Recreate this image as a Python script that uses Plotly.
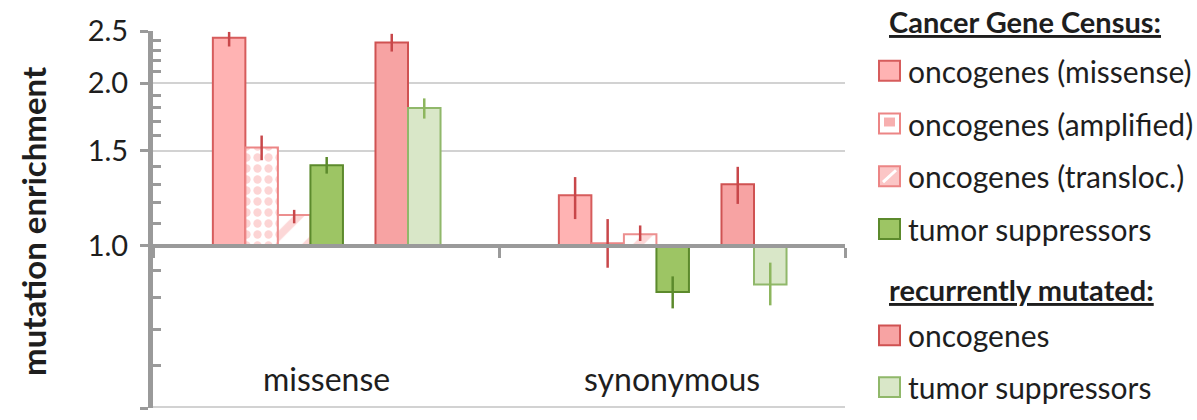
import math
import plotly.graph_objects as go

# ---------------- data ----------------
categories = ["missense", "synonymous"]

cgc_onc_missense = [2.43, 1.24]
cgc_onc_missense_hi = [2.49, 1.34]
cgc_onc_missense_lo = [2.34, 1.12]

cgc_onc_amplified = [1.52, 1.01]
cgc_onc_amplified_hi = [1.60, 1.12]
cgc_onc_amplified_lo = [1.44, 0.91]

cgc_onc_transloc = [1.14, 1.05]
cgc_onc_transloc_hi = [1.165, 1.09]
cgc_onc_transloc_lo = [1.10, 1.02]

cgc_tsg = [1.41, 0.82]
cgc_tsg_hi = [1.46, 0.877]
cgc_tsg_lo = [1.36, 0.765]

rec_onc = [2.38, 1.30]
rec_onc_hi = [2.47, 1.40]
rec_onc_lo = [2.29, 1.195]

rec_tsg = [1.80, 0.847]
rec_tsg_hi = [1.875, 0.93]
rec_tsg_lo = [1.72, 0.775]

y_tick_vals = [0.5, 1.0, 1.5, 2.0, 2.5]
y_tick_text = ["0.5", "1.0", "1.5", "2.0", "2.5"]
y_minor_vals = [0.6, 0.7, 0.8, 0.9, 1.1, 1.2, 1.3, 1.4, 1.6, 1.7, 1.8, 1.9,
                2.1, 2.2, 2.3, 2.4]

legend_title_cgc = "Cancer Gene Census:"
legend_title_rec = "recurrently mutated:"

# ---------------- styling ----------------
FONT = "Lato"
TXT = "#1e1e1e"
AX = "#9a9a9a"
GRID = "#D2D2D2"

W, H = 1197, 420
L, R, T, B = 153, 845, 29, 408


def xp(px):
    return (px - L) / (R - L)


def yp(py):
    return (B - py) / (B - T)


series = [
    dict(name="oncogenes (missense)", v=cgc_onc_missense, hi=cgc_onc_missense_hi,
         lo=cgc_onc_missense_lo, slot=0, fill="#FFB3B3", line="#D65C5C",
         err="#C8474A", pattern=None),
    dict(name="oncogenes (amplified)", v=cgc_onc_amplified, hi=cgc_onc_amplified_hi,
         lo=cgc_onc_amplified_lo, slot=1, fill="#FFFFFF", line="#EC8585",
         err="#C8474A",
         pattern=dict(shape=".", fgcolor="#F9AAAA", bgcolor="#FFFFFF",
                      size=11, solidity=0.45, fillmode="overlay")),
    dict(name="oncogenes (transloc.)", v=cgc_onc_transloc, hi=cgc_onc_transloc_hi,
         lo=cgc_onc_transloc_lo, slot=2, fill="#FFFFFF", line="#EC8F8F",
         err="#C8474A",
         pattern=dict(shape="/", fgcolor="#F9B0B0", bgcolor="#FFFFFF",
                      size=26, solidity=0.3, fillmode="overlay")),
    dict(name="tumor suppressors", v=cgc_tsg, hi=cgc_tsg_hi, lo=cgc_tsg_lo,
         slot=3, fill="#9DC564", line="#5C8A2C", err="#5C8A2C", pattern=None),
    dict(name="oncogenes", v=rec_onc, hi=rec_onc_hi, lo=rec_onc_lo, slot=5,
         fill="#F7A3A3", line="#CF5252", err="#C8474A", pattern=None),
    dict(name="tumor suppressors", v=rec_tsg, hi=rec_tsg_hi, lo=rec_tsg_lo,
         slot=6, fill="#D9E7C8", line="#90B86A", err="#8DB65E", pattern=None),
]

SLOT_W = 0.094
GROUP_START = -0.327

fig = go.Figure()
for s in series:
    marker = dict(color=s["fill"], line=dict(color=s["line"], width=2))
    if s["pattern"]:
        marker["pattern"] = s["pattern"]
    fig.add_trace(go.Bar(
        x=categories,
        y=[v - 1.0 for v in s["v"]],
        base=[1.0] * len(categories),
        width=SLOT_W,
        offset=GROUP_START + s["slot"] * SLOT_W,
        marker=marker,
        name=s["name"],
        showlegend=False,
        error_y=dict(type="data", symmetric=False,
                     array=[h - v for h, v in zip(s["hi"], s["v"])],
                     arrayminus=[v - l for v, l in zip(s["v"], s["lo"])],
                     color=s["err"], thickness=2.5, width=0),
    ))

ymin, ymax = math.log10(0.5), math.log10(2.5)
base_pos = (0 - ymin) / (ymax - ymin)

fig.update_layout(
    width=W, height=H,
    margin=dict(l=L, r=W - R, t=T, b=H - B),
    paper_bgcolor="white", plot_bgcolor="white",
    barmode="overlay",
    font=dict(family=FONT, color=TXT, size=28),
    showlegend=False,
    xaxis=dict(
        type="category", range=[-0.5, 1.5],
        anchor="free", position=base_pos,
        showline=True, linecolor=AX, linewidth=4,
        ticks="outside", tickson="boundaries", ticklen=10, tickwidth=3,
        tickcolor=AX, showticklabels=False, showgrid=False,
    ),
    yaxis=dict(
        type="log", range=[ymin, ymax],
        tickmode="array", tickvals=y_tick_vals, ticktext=y_tick_text,
        ticks="outside", ticklen=8, tickwidth=3, tickcolor=AX,
        ticklabelstandoff=6,
        showline=True, linecolor=AX, linewidth=5,
        showgrid=True, gridcolor=GRID, gridwidth=2,
        tickfont=dict(family=FONT, size=29, color=TXT),
        minor=dict(tickmode="array", tickvals=y_minor_vals, ticks="inside",
                   ticklen=8, tickwidth=3, tickcolor=AX, showgrid=False),
        zeroline=False,
    ),
)

annotations = []
# y-axis title
annotations.append(dict(
    text="<b>mutation enrichment</b>", xref="paper", yref="paper",
    x=xp(33), y=yp(220), textangle=-90, showarrow=False,
    font=dict(family=FONT, size=33, color=TXT),
    xanchor="center", yanchor="middle"))
# category labels
for c in categories:
    annotations.append(dict(
        text=c, xref="x", yref="paper", x=c, y=yp(378), showarrow=False,
        font=dict(family=FONT, size=32, color=TXT),
        xanchor="center", yanchor="middle"))

shapes = []
# bottom gridline at the lowest tick (plotly omits grid at the plot edge)
shapes.append(dict(type="line", xref="paper", yref="paper", x0=0, x1=1,
                   y0=yp(B - 1), y1=yp(B - 1),
                   line=dict(color=GRID, width=2), layer="below"))

# custom legend
legend_items = [
    (legend_title_cgc, None, 19),
    ("oncogenes (missense)", "solid1", 69),
    ("oncogenes (amplified)", "amp", 122),
    ("oncogenes (transloc.)", "trans", 175),
    ("tumor suppressors", "green", 228),
    (legend_title_rec, None, 289),
    ("oncogenes", "solid2", 335),
    ("tumor suppressors", "lgreen", 387),
]
SW_X0, SW_X1, TXT_X, HEAD_X = 879, 900, 906, 887
for text, kind, cy in legend_items:
    if kind is None:
        annotations.append(dict(
            text="<b><u>" + text + "</u></b>", xref="paper", yref="paper",
            x=xp(HEAD_X), y=yp(cy), showarrow=False, xanchor="left",
            yanchor="middle", font=dict(family=FONT, size=29, color=TXT)))
        continue
    annotations.append(dict(
        text=text, xref="paper", yref="paper", x=xp(TXT_X), y=yp(cy),
        showarrow=False, xanchor="left", yanchor="middle",
        font=dict(family=FONT, size=30, color=TXT)))
    y0, y1 = yp(cy + 10), yp(cy - 10)
    x0, x1 = xp(SW_X0), xp(SW_X1)
    style = {
        "solid1": ("#FFB3B3", "#D65C5C"),
        "amp": ("#FFFFFF", "#EC8585"),
        "trans": ("#FBC6C6", "#EC8585"),
        "green": ("#9DC564", "#5C8A2C"),
        "solid2": ("#F7A3A3", "#CF5252"),
        "lgreen": ("#D9E7C8", "#90B86A"),
    }[kind]
    shapes.append(dict(type="rect", xref="paper", yref="paper",
                       x0=x0, x1=x1, y0=y0, y1=y1, fillcolor=style[0],
                       line=dict(color=style[1], width=2)))
    if kind == "amp":
        shapes.append(dict(type="rect", xref="paper", yref="paper",
                           x0=xp(884), x1=xp(895), y0=yp(cy + 3), y1=yp(cy - 6),
                           fillcolor="#F7AFAF", line=dict(width=0)))
    if kind == "trans":
        shapes.append(dict(type="line", xref="paper", yref="paper",
                           x0=xp(883), x1=xp(896), y0=yp(cy + 6), y1=yp(cy - 6),
                           line=dict(color="#FFFFFF", width=3)))

fig.update_layout(annotations=annotations, shapes=shapes)

fig.write_html("out.html",
               config={"displayModeBar": False},
               post_script="document.body.style.margin='0px';"
                           "document.body.style.padding='0px';")
